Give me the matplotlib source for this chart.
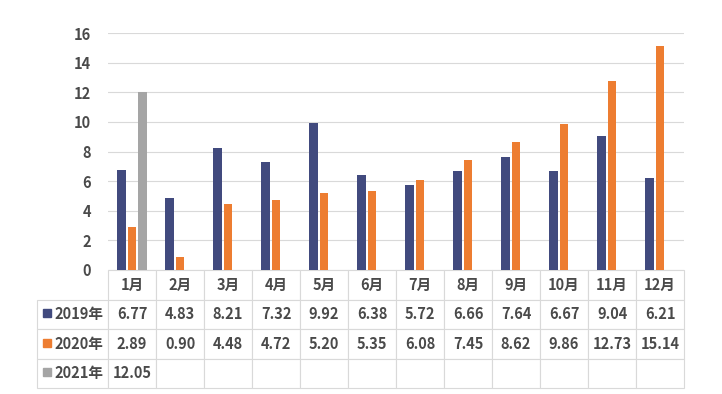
import numpy as np
import matplotlib
matplotlib.use('Agg')
from matplotlib import pyplot as plt

plt.rcParams['font.family'] = ['Noto Sans CJK SC', 'DejaVu Sans']

# Data
months = ['1月', '2月', '3月', '4月', '5月', '6月', '7月', '8月', '9月', '10月', '11月', '12月']
series_names = ['2019年', '2020年', '2021年']
v2019 = [6.77, 4.83, 8.21, 7.32, 9.92, 6.38, 5.72, 6.66, 7.64, 6.67, 9.04, 6.21]
v2020 = [2.89, 0.90, 4.48, 4.72, 5.20, 5.35, 6.08, 7.45, 8.62, 9.86, 12.73, 15.14]
v2021 = [12.05]
colors = ['#414A7E', '#ED7D31', '#A5A5A5']
text_color = '#4A4A4A'
grid_color = '#D9D9D9'
fsize = 10.5

fig = plt.figure(figsize=(7.22, 3.94), dpi=100)
ax = fig.add_axes([108 / 722, (394 - 270) / 394, 576 / 722, 237 / 394])

# Bars
x = np.arange(len(months))
w = 0.18
off = 0.22
all_series = [v2019, v2020, v2021]
for i, vals in enumerate(all_series):
    xs = x[:len(vals)] + (i - 1) * off
    ax.bar(xs, vals, w, color=colors[i], zorder=3)

# Axes formatting
ax.set_xlim(-0.5, len(months) - 0.5)
ax.set_ylim(0, 16)
ax.set_yticks(range(0, 17, 2))
ax.set_xticks([])
ax.grid(axis='y', color=grid_color, linewidth=0.8, zorder=0)
for s in ax.spines.values():
    s.set_visible(False)
ax.tick_params(axis='y', length=0, pad=12, labelsize=fsize, labelcolor=text_color)
for lbl in ax.get_yticklabels():
    lbl.set_fontweight('bold')

# Data table below the plot
rows = [[''] + months]
for name, vals in zip(series_names, all_series):
    cells = ['%.2f' % v for v in vals] + [''] * (len(months) - len(vals))
    rows.append([name] + cells)

label_w = 71
col_w = 48
total_w = label_w + col_w * len(months)
tbl = ax.table(cellText=rows, cellLoc='center',
               colWidths=[label_w / total_w] + [col_w / total_w] * len(months),
               bbox=[-label_w / 576, -118 / 237, total_w / 576, 118 / 237])
tbl.auto_set_font_size(False)
for (r, c), cell in tbl.get_celld().items():
    cell.set_edgecolor(grid_color)
    cell.set_linewidth(0.8)
    t = cell.get_text()
    t.set_fontsize(fsize)
    t.set_fontweight('bold')
    t.set_color(text_color)
    if r == 0 and c == 0:
        cell.visible_edges = ''
    if c == 0 and r > 0:
        t.set_horizontalalignment('right')
        cell._loc = 'right'
        cell.PAD = 0.06

# Legend squares in the row labels
row_h = 118 / 237 / 4
for i in range(len(series_names)):
    yc = -row_h * (i + 1.5) + 0.005
    ax.plot([-61 / 576], [yc], marker='s', markersize=5.8, color=colors[i],
            transform=ax.transAxes, clip_on=False, linestyle='none')

fig.savefig('out.png', dpi=100, facecolor='white')
